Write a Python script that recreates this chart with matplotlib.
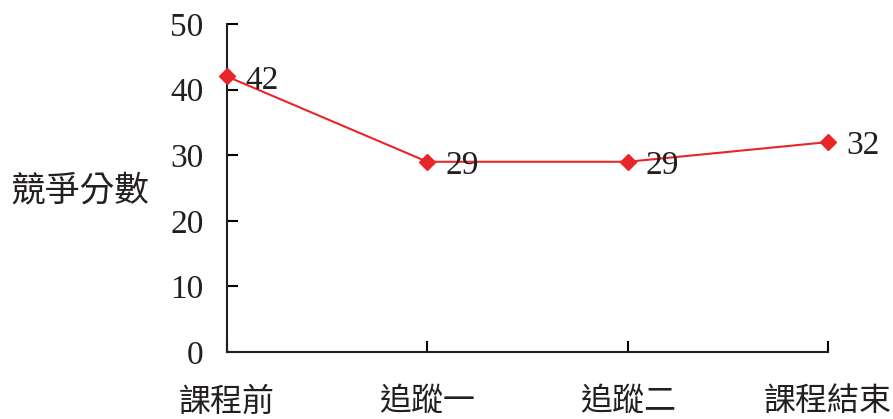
import matplotlib.pyplot as plt

# data
stages = ['課程前', '追蹤一', '追蹤二', '課程結束']
scores = [42, 29, 29, 32]
yticks = [0, 10, 20, 30, 40, 50]

plt.rcParams['font.family'] = ['Liberation Serif', 'Noto Sans CJK TC']

fig = plt.figure(figsize=(8.93, 4.19), dpi=100)
ax = fig.add_axes([227 / 893, 67 / 419, 601 / 893, 328 / 419])

x = range(len(stages))
ax.plot(x, scores, color='#e8262a', lw=1.5, marker='D', ms=8, clip_on=False, zorder=3)

# value labels to the right of each point
for i, v in zip(x, scores):
    ax.annotate(str(v), (i, v), xytext=(13, -3), textcoords='offset points',
                ha='left', va='center', fontsize=24, color='#231f20')

ax.set_xlim(0, len(stages) - 1)
ax.set_ylim(0, 50)
ax.set_yticks(yticks)
ax.set_xticks(list(x))
ax.set_xticklabels(stages, fontsize=23, color='#231f20',
                   family=['Noto Sans CJK TC'])
ax.tick_params(axis='y', direction='in', length=8, width=1.5, labelsize=24,
               labelcolor='#231f20', pad=17)
ax.tick_params(axis='x', direction='in', length=8, width=1.5, pad=24)

for side in ['top', 'right']:
    ax.spines[side].set_visible(False)
for side in ['left', 'bottom']:
    ax.spines[side].set_linewidth(1.5)
    ax.spines[side].set_color('#231f20')

fig.text(10 / 893, 1 - 191 / 419, '競爭分數', fontsize=25, color='#231f20',
         family=['Noto Sans CJK TC'], ha='left', va='center')

fig.savefig('out.png', dpi=100)
